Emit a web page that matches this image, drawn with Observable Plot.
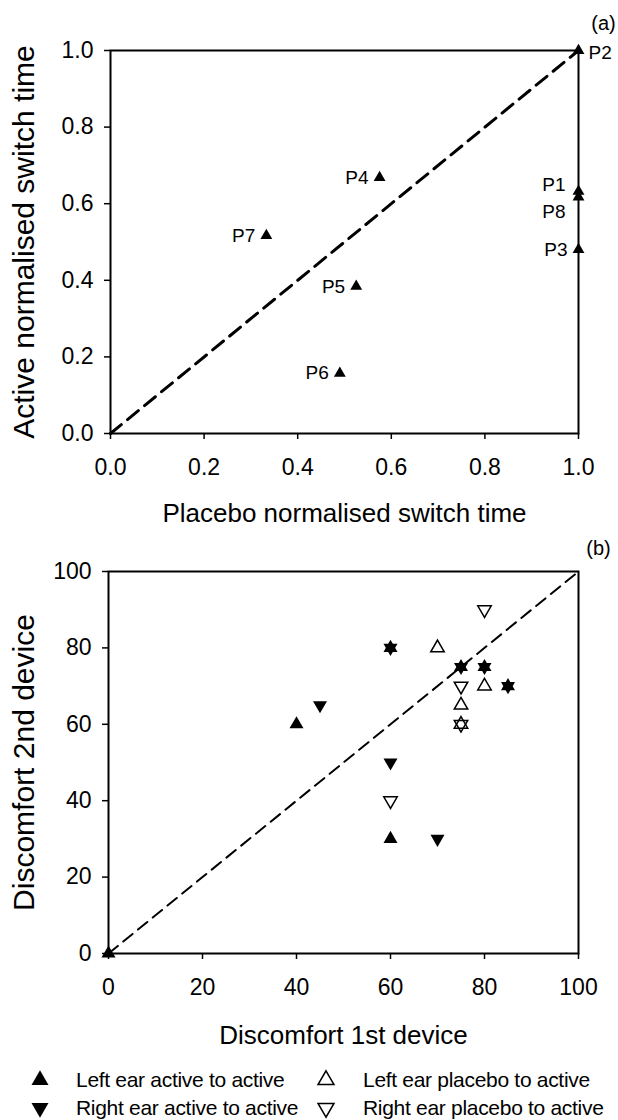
<!DOCTYPE html>
<html>
<head>
<meta charset="utf-8">
<script src="https://cdn.jsdelivr.net/npm/d3@7"></script>
<script src="https://cdn.jsdelivr.net/npm/@observablehq/plot@0.6"></script>
<style>
  html, body { margin: 0; padding: 0; background: #fff; }
  #wrap { position: relative; width: 618px; height: 1120px; overflow: hidden; font-family: "Liberation Sans", Arial, sans-serif; color: #000; }
  #wrap svg.plot { display: block; }
  .leg-item { position: absolute; height: 28px; display: flex; align-items: center; font-size: 21px; white-space: nowrap; }
</style>
</head>
<body>
<div id="wrap"></div>
<script>
// ---------- Panel (a) data ----------
const participants   = ["P1", "P2", "P3", "P4", "P5", "P6", "P7", "P8"];
const placeboSwitch  = [1.0, 1.0, 1.0, 0.575, 0.525, 0.49, 0.333, 1.0];
const activeSwitch   = [0.632, 1.0, 0.48, 0.668, 0.384, 0.157, 0.517, 0.617];
const ticksA         = [0, 0.2, 0.4, 0.6, 0.8, 1.0];
const diagonalA      = [0, 1];

// ---------- Panel (b) data ----------
const groupNames = ["Left ear active to active", "Right ear active to active",
                    "Left ear placebo to active", "Right ear placebo to active"];
const leftActiveFirst    = [0, 40, 60, 60, 75, 80, 85];
const leftActiveSecond   = [0, 60, 80, 30, 75, 75, 70];
const rightActiveFirst   = [45, 60, 60, 70, 75, 80, 85];
const rightActiveSecond  = [65, 80, 50, 30, 75, 75, 70];
const leftPlaceboFirst   = [70, 80, 75, 75];
const leftPlaceboSecond  = [80, 70, 65, 60];
const rightPlaceboFirst  = [80, 75, 75, 60];
const rightPlaceboSecond = [90, 70, 60, 40];
const ticksB             = [0, 20, 40, 60, 80, 100];
const diagonalB          = [0, 100];

// ---------- helpers ----------
const font = '"Liberation Sans", Arial, sans-serif';
const pairs = (xs, ys) => xs.map((x, i) => ({x, y: ys[i]}));
const triangleDown = {
  draw(ctx, size) {
    const y = -Math.sqrt(size / (3 * Math.sqrt(3)));
    ctx.moveTo(0, -2 * y);
    ctx.lineTo(Math.sqrt(3) * y, y);
    ctx.lineTo(-Math.sqrt(3) * y, y);
    ctx.closePath();
  }
};

const wrap = document.getElementById("wrap");

// ---------- Panel (a) ----------
const rowsA = participants.map((p, i) => ({p, x: placeboSwitch[i], y: activeSwitch[i]}));
const plainLabels = rowsA.filter(d => !["P1", "P2", "P8"].includes(d.p));

const plotA = Plot.plot({
  width: 618, height: 540,
  marginLeft: 110, marginRight: 40, marginTop: 50, marginBottom: 107,
  style: {fontFamily: font, fontSize: "23px", color: "#000", background: "#fff", overflow: "visible"},
  x: {domain: [0, 1]},
  y: {domain: [0, 1]},
  marks: [
    Plot.axisX({ticks: ticksA, tickFormat: d3.format(".1f"), tickSize: 6, tickPadding: 19, strokeWidth: 1.5, label: null, fontSize: 23}),
    Plot.axisY({ticks: ticksA, tickFormat: d3.format(".1f"), tickSize: 6, tickPadding: 11, strokeWidth: 1.5, label: null, fontSize: 23}),
    Plot.line(diagonalA, {x: d => d, y: d => d, stroke: "#000", strokeWidth: 3, strokeDasharray: "14,8"}),
    Plot.frame({stroke: "#000", strokeWidth: 2}),
    Plot.dot(rowsA, {x: "x", y: "y", symbol: "triangle", r: 4.4, fill: "#000", stroke: "none"}),
    Plot.text(plainLabels, {x: "x", y: "y", text: "p", textAnchor: "end", dx: -11, fontSize: 19}),
    Plot.text(rowsA.filter(d => d.p === "P2"), {x: "x", y: "y", text: "p", textAnchor: "start", dx: 10, dy: 2, fontSize: 19}),
    Plot.text(rowsA.filter(d => d.p === "P1"), {x: "x", y: "y", text: "p", textAnchor: "end", dx: -13, dy: -7, fontSize: 19}),
    Plot.text(rowsA.filter(d => d.p === "P8"), {x: "x", y: "y", text: "p", textAnchor: "end", dx: -13, dy: 15, fontSize: 19}),
    Plot.text(["Placebo normalised switch time"], {frameAnchor: "bottom", textAnchor: "middle", lineAnchor: "middle", dy: 80, fontSize: 26}),
    Plot.text(["Active normalised switch time"], {frameAnchor: "left", textAnchor: "middle", lineAnchor: "middle", dx: -86, rotate: -90, fontSize: 30}),
    Plot.text(["(a)"], {frameAnchor: "top-right", textAnchor: "middle", lineAnchor: "middle", dx: 25, dy: -27, fontSize: 20})
  ]
});
wrap.appendChild(plotA);

// ---------- Panel (b) ----------
const plotB = Plot.plot({
  width: 618, height: 520,
  marginLeft: 108, marginRight: 40, marginTop: 31, marginBottom: 107,
  style: {fontFamily: font, fontSize: "23px", color: "#000", background: "#fff", overflow: "visible"},
  x: {domain: [0, 100]},
  y: {domain: [0, 100]},
  marks: [
    Plot.axisX({ticks: ticksB, tickSize: 6, tickPadding: 19, strokeWidth: 1.5, label: null, fontSize: 23}),
    Plot.axisY({ticks: ticksB, tickSize: 6, tickPadding: 11, strokeWidth: 1.5, label: null, fontSize: 23}),
    Plot.line(diagonalB, {x: d => d, y: d => d, stroke: "#000", strokeWidth: 2, strokeDasharray: "12,7"}),
    Plot.frame({stroke: "#000", strokeWidth: 2}),
    Plot.dot(pairs(leftActiveFirst, leftActiveSecond), {x: "x", y: "y", symbol: "triangle", r: 5.2, fill: "#000", stroke: "none"}),
    Plot.dot(pairs(rightActiveFirst, rightActiveSecond), {x: "x", y: "y", symbol: triangleDown, r: 5.2, fill: "#000", stroke: "none"}),
    Plot.dot(pairs(leftPlaceboFirst, leftPlaceboSecond), {x: "x", y: "y", symbol: "triangle", r: 5.0, fill: "none", stroke: "#000", strokeWidth: 1.5}),
    Plot.dot(pairs(rightPlaceboFirst, rightPlaceboSecond), {x: "x", y: "y", symbol: triangleDown, r: 5.0, fill: "none", stroke: "#000", strokeWidth: 1.5}),
    Plot.text(["Discomfort 1st device"], {frameAnchor: "bottom", textAnchor: "middle", lineAnchor: "middle", dy: 82, fontSize: 26}),
    Plot.text(["Discomfort 2nd device"], {frameAnchor: "left", textAnchor: "middle", lineAnchor: "middle", dx: -84, rotate: -90, fontSize: 30}),
    Plot.text(["(b)"], {frameAnchor: "top-right", textAnchor: "middle", lineAnchor: "middle", dx: 20, dy: -23, fontSize: 20})
  ]
});
wrap.appendChild(plotB);

// ---------- Legend (below panel b) ----------
const legendItems = [
  {name: groupNames[0], type: d3.symbolTriangle, filled: true,  mx: 40,  tx: 76,  cy: 1080},
  {name: groupNames[1], type: triangleDown,      filled: true,  mx: 40,  tx: 76,  cy: 1108},
  {name: groupNames[2], type: d3.symbolTriangle, filled: false, mx: 326, tx: 363, cy: 1080},
  {name: groupNames[3], type: triangleDown,      filled: false, mx: 326, tx: 363, cy: 1108}
];
for (const it of legendItems) {
  const svg = d3.select(wrap).append("svg")
    .attr("width", 24).attr("height", 24)
    .style("position", "absolute")
    .style("left", (it.mx - 12) + "px")
    .style("top", (it.cy - 12) + "px");
  svg.append("path")
    .attr("transform", "translate(12,12)")
    .attr("d", d3.symbol(it.type, it.filled ? 125 : 110)())
    .attr("fill", it.filled ? "#000" : "none")
    .attr("stroke", it.filled ? "none" : "#000")
    .attr("stroke-width", 1.5);
  d3.select(wrap).append("div")
    .attr("class", "leg-item")
    .style("left", it.tx + "px")
    .style("top", (it.cy - 14) + "px")
    .style("letter-spacing", "-0.3px")
    .text(it.name);
}
</script>
</body>
</html>
